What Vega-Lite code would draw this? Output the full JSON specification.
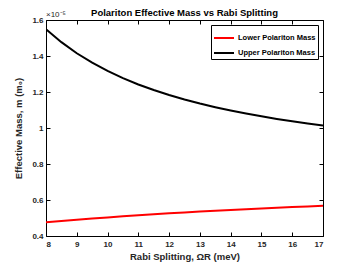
{
  "$schema": "https://vega.github.io/schema/vega-lite/v6.json",
  "width": 277,
  "height": 216,
  "autosize": "none",
  "padding": {"left": 46, "top": 20, "right": 34, "bottom": 32},
  "background": "white",
  "config": {
    "font": "Liberation Sans",
    "view": {"stroke": "black", "strokeWidth": 1},
    "axis": {"grid": false, "domainColor": "black", "tickColor": "black", "labelColor": "#262626", "titleColor": "#262626", "labelFontWeight": "bold", "titleFontWeight": "bold", "labelFontSize": 8, "titleFontSize": 9.5}
  },
  "title": {"text": "Polariton Effective Mass vs Rabi Splitting", "fontSize": 9.5, "fontWeight": "bold", "color": "black", "offset": 3, "dy": 9},
  "datasets": {
    "curves": [
      {"omega": 8, "mass": 0.4758, "series": "Lower Polariton Mass"},
      {"omega": 8.5, "mass": 0.4831, "series": "Lower Polariton Mass"},
      {"omega": 9, "mass": 0.49, "series": "Lower Polariton Mass"},
      {"omega": 9.5, "mass": 0.4967, "series": "Lower Polariton Mass"},
      {"omega": 10, "mass": 0.503, "series": "Lower Polariton Mass"},
      {"omega": 10.5, "mass": 0.5091, "series": "Lower Polariton Mass"},
      {"omega": 11, "mass": 0.5149, "series": "Lower Polariton Mass"},
      {"omega": 11.5, "mass": 0.5205, "series": "Lower Polariton Mass"},
      {"omega": 12, "mass": 0.5258, "series": "Lower Polariton Mass"},
      {"omega": 12.5, "mass": 0.5309, "series": "Lower Polariton Mass"},
      {"omega": 13, "mass": 0.5357, "series": "Lower Polariton Mass"},
      {"omega": 13.5, "mass": 0.5403, "series": "Lower Polariton Mass"},
      {"omega": 14, "mass": 0.5448, "series": "Lower Polariton Mass"},
      {"omega": 14.5, "mass": 0.549, "series": "Lower Polariton Mass"},
      {"omega": 15, "mass": 0.5531, "series": "Lower Polariton Mass"},
      {"omega": 15.5, "mass": 0.557, "series": "Lower Polariton Mass"},
      {"omega": 16, "mass": 0.5607, "series": "Lower Polariton Mass"},
      {"omega": 16.5, "mass": 0.5643, "series": "Lower Polariton Mass"},
      {"omega": 17, "mass": 0.5678, "series": "Lower Polariton Mass"},
      {"omega": 8, "mass": 1.5489, "series": "Upper Polariton Mass"},
      {"omega": 8.5, "mass": 1.4768, "series": "Upper Polariton Mass"},
      {"omega": 9, "mass": 1.4154, "series": "Upper Polariton Mass"},
      {"omega": 9.5, "mass": 1.3627, "series": "Upper Polariton Mass"},
      {"omega": 10, "mass": 1.317, "series": "Upper Polariton Mass"},
      {"omega": 10.5, "mass": 1.2771, "series": "Upper Polariton Mass"},
      {"omega": 11, "mass": 1.2419, "series": "Upper Polariton Mass"},
      {"omega": 11.5, "mass": 1.2108, "series": "Upper Polariton Mass"},
      {"omega": 12, "mass": 1.183, "series": "Upper Polariton Mass"},
      {"omega": 12.5, "mass": 1.1581, "series": "Upper Polariton Mass"},
      {"omega": 13, "mass": 1.1357, "series": "Upper Polariton Mass"},
      {"omega": 13.5, "mass": 1.1154, "series": "Upper Polariton Mass"},
      {"omega": 14, "mass": 1.097, "series": "Upper Polariton Mass"},
      {"omega": 14.5, "mass": 1.0801, "series": "Upper Polariton Mass"},
      {"omega": 15, "mass": 1.0647, "series": "Upper Polariton Mass"},
      {"omega": 15.5, "mass": 1.0505, "series": "Upper Polariton Mass"},
      {"omega": 16, "mass": 1.0375, "series": "Upper Polariton Mass"},
      {"omega": 16.5, "mass": 1.0254, "series": "Upper Polariton Mass"},
      {"omega": 17, "mass": 1.0142, "series": "Upper Polariton Mass"}
    ],
    "exponent": [{"omega": 8, "mass": 1.6, "label": "×10⁻⁵"}]
  },
  "layer": [
    {
      "data": {"name": "curves"},
      "mark": {"type": "line", "strokeWidth": 2, "clip": true},
      "encoding": {
        "x": {"field": "omega", "type": "quantitative", "scale": {"domain": [8, 17], "nice": false, "zero": false},
              "axis": {"orient": "bottom", "title": "Rabi Splitting, ΩR (meV)", "values": [8, 9, 10, 11, 12, 13, 14, 15, 16, 17], "tickSize": -4, "labelPadding": 8, "titlePadding": 3, "domain": false}},
        "y": {"field": "mass", "type": "quantitative", "scale": {"domain": [0.4, 1.6], "nice": false, "zero": false},
              "axis": {"orient": "left", "title": "Effective Mass, m (m₀)", "format": "~g", "values": [0.4, 0.6, 0.8, 1, 1.2, 1.4, 1.6], "tickSize": -4, "labelPadding": 7, "titlePadding": 8, "domain": false}},
        "color": {"field": "series", "type": "nominal",
                  "scale": {"domain": ["Lower Polariton Mass", "Upper Polariton Mass"], "range": ["#ff0000", "#000000"]},
                  "legend": {"title": null, "orient": "top-right", "offset": 5, "symbolType": "stroke", "symbolSize": 400, "symbolStrokeWidth": 2, "labelFontSize": 7.5, "labelFontWeight": "bold", "labelColor": "black", "strokeColor": "black", "fillColor": "white", "padding": 2, "rowPadding": 0, "labelOffset": 3}}
      }
    },
    {
      "data": {"name": "curves"},
      "mark": {"type": "line", "opacity": 0},
      "encoding": {
        "x": {"field": "omega", "type": "quantitative", "axis": {"orient": "top", "title": null, "labels": false, "values": [8, 9, 10, 11, 12, 13, 14, 15, 16, 17], "tickSize": -4, "domain": false}},
        "y": {"field": "mass", "type": "quantitative", "axis": {"orient": "right", "title": null, "labels": false, "values": [0.4, 0.6, 0.8, 1, 1.2, 1.4, 1.6], "tickSize": -4, "domain": false}}
      }
    },
    {
      "data": {"name": "exponent"},
      "mark": {"type": "text", "align": "left", "baseline": "bottom", "dy": -1, "fontSize": 8, "color": "#262626"},
      "encoding": {
        "x": {"field": "omega", "type": "quantitative", "axis": null},
        "y": {"field": "mass", "type": "quantitative", "axis": null},
        "text": {"field": "label"}
      }
    }
  ],
  "resolve": {"axis": {"x": "independent", "y": "independent"}}
}
